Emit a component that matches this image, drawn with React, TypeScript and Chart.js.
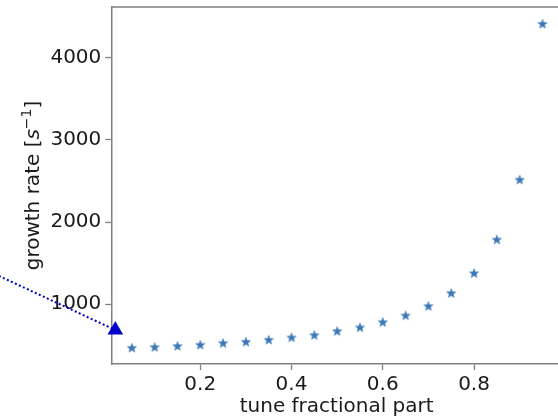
import React, { useEffect, useRef } from 'react';
import { Chart, registerables } from 'chart.js';

Chart.register(...registerables);

// ---- data ----
const tunes = [0.05, 0.1, 0.15, 0.2, 0.25, 0.3, 0.35, 0.4, 0.45, 0.5, 0.55, 0.6, 0.65, 0.7, 0.75, 0.8, 0.85, 0.9, 0.95];
const growthRates = [469, 477, 490, 505, 526, 542, 566, 595, 623, 672, 717, 781, 863, 976, 1134, 1377, 1786, 2515, 4411];
const xTicks = [0.2, 0.4, 0.6, 0.8];
const yTicks = [1000, 2000, 3000, 4000];
const arrowX = [-0.25, 0.0138];
const arrowY = [1366, 686];
const xTitle = 'tune fractional part';
const yTitleMain = 'growth rate [';
const yTitleVar = 's';
const yTitleSup = '\u22121';
const yTitleEnd = ']';

const FONT = "'DejaVu Sans', sans-serif";
const TEXT = '#1a1a1a';
const SPINE = '#808080';
const STAR = '#3a78b6';
const ARROW = '#0000cd';

function makeStar(): HTMLCanvasElement {
  const size = 12;
  const c = document.createElement('canvas');
  c.width = size;
  c.height = size;
  const ctx = c.getContext('2d')!;
  const cx = size / 2;
  const cy = size / 2 + 0.3;
  const outer = 4.8;
  const inner = 2.0;
  ctx.beginPath();
  for (let i = 0; i < 10; i++) {
    const r = i % 2 === 0 ? outer : inner;
    const a = -Math.PI / 2 + (i * Math.PI) / 5;
    const px = cx + r * Math.cos(a);
    const py = cy + r * Math.sin(a);
    if (i === 0) ctx.moveTo(px, py);
    else ctx.lineTo(px, py);
  }
  ctx.closePath();
  ctx.fillStyle = STAR;
  ctx.fill();
  ctx.lineWidth = 0.6;
  ctx.strokeStyle = STAR;
  ctx.stroke();
  return c;
}

const zeroPad = (s: any) => {
  s.paddingTop = 0;
  s.paddingBottom = 0;
  s.paddingLeft = 0;
  s.paddingRight = 0;
};

const decorPlugin = {
  id: 'decor',
  afterDraw(chart: any) {
    const { ctx, chartArea } = chart;
    ctx.save();
    // top & right spines
    ctx.strokeStyle = SPINE;
    ctx.lineWidth = 1.5;
    ctx.beginPath();
    ctx.moveTo(chartArea.left, chartArea.top);
    ctx.lineTo(chartArea.right, chartArea.top);
    ctx.lineTo(chartArea.right, chartArea.bottom);
    ctx.stroke();

    // x title
    ctx.fillStyle = TEXT;
    ctx.font = `20px ${FONT}`;
    ctx.textAlign = 'center';
    ctx.textBaseline = 'alphabetic';
    ctx.fillText(xTitle, (chartArea.left + chartArea.right) / 2 - 0.5, 412);

    // y title (rotated, with italic s and superscript)
    const parts = [
      { t: yTitleMain, f: `20px ${FONT}`, dy: 0 },
      { t: yTitleVar, f: `italic 20px ${FONT}`, dy: 0 },
      { t: yTitleSup, f: `14px ${FONT}`, dy: -8 },
      { t: yTitleEnd, f: `20px ${FONT}`, dy: 0 },
    ];
    let total = 0;
    const widths: number[] = [];
    for (const p of parts) {
      ctx.font = p.f;
      const w = ctx.measureText(p.t).width;
      widths.push(w);
      total += w;
    }
    const cy = (chartArea.top + chartArea.bottom) / 2;
    ctx.translate(39, cy);
    ctx.rotate(-Math.PI / 2);
    ctx.textAlign = 'left';
    let x = -total / 2;
    parts.forEach((p, i) => {
      ctx.font = p.f;
      ctx.fillText(p.t, x, p.dy);
      x += widths[i];
    });
    ctx.restore();
  },
};

export default function App() {
  const ref = useRef<HTMLCanvasElement>(null);

  useEffect(() => {
    const canvas = ref.current!;
    const star = makeStar();
    const chart = new Chart(canvas, {
      type: 'scatter',
      data: {
        datasets: [
          {
            type: 'line',
            data: arrowX.map((x, i) => ({ x, y: arrowY[i] })),
            borderColor: ARROW,
            backgroundColor: ARROW,
            borderWidth: 2,
            borderDash: [2, 2.4],
            pointStyle: 'triangle',
            pointRadius: [0, 9],
            pointBorderWidth: 0,
            pointBackgroundColor: ARROW,
            clip: false,
            order: 0,
          } as any,
          {
            type: 'scatter',
            data: tunes.map((x, i) => ({ x, y: growthRates[i] })),
            pointStyle: star as any,
            pointRadius: 5,
            order: 1,
          } as any,
        ],
      },
      options: {
        responsive: false,
        animation: false,
        devicePixelRatio: 1,
        layout: { autoPadding: false, padding: { top: 7, left: 0, right: 0, bottom: 0 } },
        plugins: {
          legend: { display: false },
          tooltip: { enabled: false },
          title: { display: false },
        },
        scales: {
          x: {
            type: 'linear',
            min: 0.005,
            max: 0.995,
            afterBuildTicks: (s: any) => {
              s.ticks = xTicks.map((v) => ({ value: v }));
            },
            afterFit: (s: any) => {
              s.height = 54;
              zeroPad(s);
            },
            ticks: {
              color: TEXT,
              font: { family: FONT, size: 20 },
              padding: 3,
              maxRotation: 0,
              autoSkip: false,
              callback: (v: any) => Number(v).toFixed(1),
            },
            grid: {
              drawOnChartArea: false,
              drawTicks: true,
              tickLength: 6,
              tickColor: SPINE,
              tickWidth: 1.3,
            },
            border: { display: true, color: SPINE, width: 1.5 },
          },
          y: {
            type: 'linear',
            min: 272,
            max: 4617,
            afterBuildTicks: (s: any) => {
              s.ticks = yTicks.map((v) => ({ value: v }));
            },
            afterFit: (s: any) => {
              s.width = 111.3;
              zeroPad(s);
            },
            ticks: {
              color: TEXT,
              font: { family: FONT, size: 20 },
              padding: 4,
              autoSkip: false,
              callback: (v: any) => String(v),
            },
            grid: {
              drawOnChartArea: false,
              drawTicks: true,
              tickLength: 6,
              tickColor: SPINE,
              tickWidth: 1.3,
            },
            border: { display: true, color: SPINE, width: 1.5 },
          },
        },
      },
      plugins: [decorPlugin],
    });
    return () => chart.destroy();
  }, []);

  return (
    <div style={{ position: 'fixed', left: 0, top: 0, width: 558, height: 418, overflow: 'hidden', background: '#fff' }}>
      <canvas ref={ref} width={563} height={418} style={{ display: 'block', width: 563, height: 418 }} />
    </div>
  );
}
